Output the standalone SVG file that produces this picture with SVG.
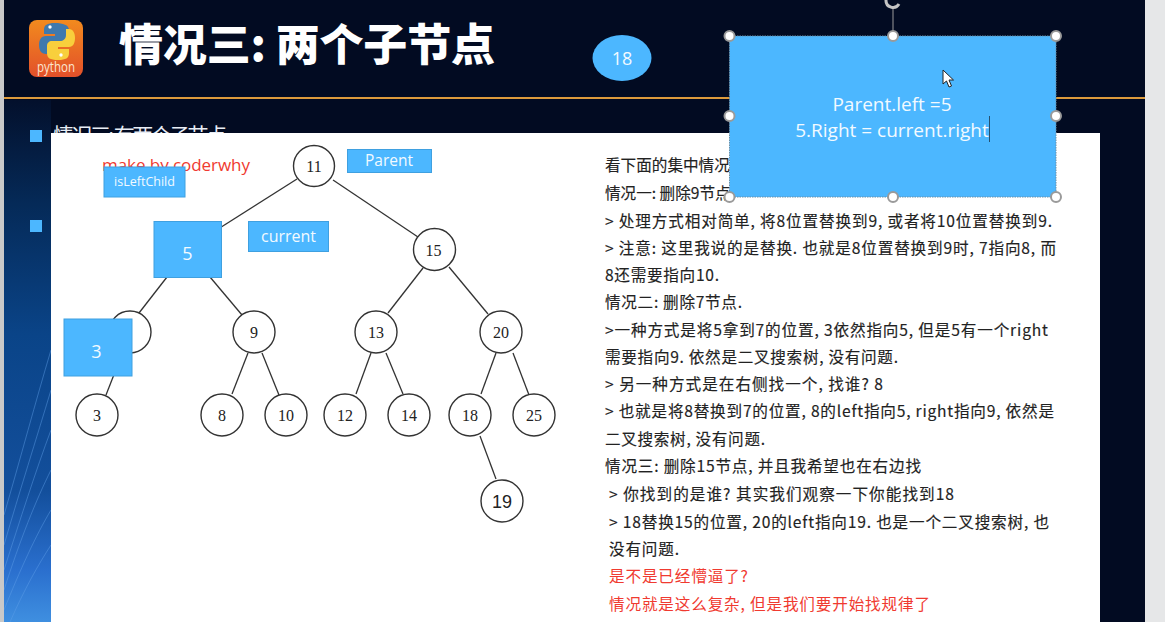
<svg xmlns="http://www.w3.org/2000/svg" width="1165" height="622" viewBox="0 0 1165 622">
<style>
.cjk{font-family:"Noto Sans CJK SC","Noto Sans",sans-serif}
.body{font-size:15.6px;fill:#222;stroke:#222;stroke-width:.15}
.red{font-size:15.6px;fill:#f03a30}
.num{font-family:"Liberation Serif",serif;font-size:16px;fill:#222;text-anchor:middle}
.nc{fill:#fff;stroke:#333;stroke-width:1.4}
.lnk{stroke:#333;stroke-width:1.3;fill:none}
.box{fill:#4cb7ff;stroke:#3fa0e0;stroke-width:1}
.bt{font-family:"Open Sans",sans-serif;fill:#f2faff;text-anchor:middle}
.hd{fill:#fff;stroke:#9a9a9a;stroke-width:2}
.st{stroke:#5fa0e8;stroke-width:1;fill:none;opacity:.45}
</style>
<defs>
<linearGradient id="side" x1="0" y1="0" x2="0" y2="1"><stop offset="0" stop-color="#03102c"/><stop offset=".2" stop-color="#052a58"/><stop offset=".45" stop-color="#0a4488"/><stop offset=".75" stop-color="#134f9c"/><stop offset=".9" stop-color="#2a6fce"/><stop offset="1" stop-color="#3f8fe0"/></linearGradient>
<linearGradient id="py" x1="0" y1="0" x2="0" y2="1"><stop offset="0" stop-color="#f28a1e"/><stop offset="1" stop-color="#e2502a"/></linearGradient>
</defs>
<rect width="1165" height="622" fill="#020b22"/>
<rect x="4" y="100" width="47" height="522" fill="url(#side)"/>
<g id="streaks">
<path class="st" d="M4 590C20 540 36 500 51 470"/>
<path class="st" d="M4 570C20 520 36 470 51 430"/>
<path class="st" d="M4 545C20 490 36 440 51 390"/>
<path class="st" d="M4 515C20 460 36 400 51 350"/>
<path class="st" d="M4 610C20 570 36 535 51 510"/>
<path class="st" d="M10 622C24 590 38 565 51 545"/>
</g>
<rect x="0" y="0" width="4" height="622" fill="#c9c9c9"/>
<rect x="1145" y="0" width="20" height="622" fill="#e6e7e8"/>
<rect x="4" y="97" width="1141" height="2" fill="#dc9a3c"/>
<g id="logo">
<rect x="29" y="20" width="54" height="57" rx="8" fill="url(#py)"/>
<path d="M55 23c-8 0-11 2-11 7v4h11v2H46c-5 0-7 4-7 9s2 9 7 9h4v-6c0-4 3-6 6-6h8c3 0 5-2 5-5V30c0-5-6-7-14-7z" fill="#3f79ad"/>
<path d="M58 60c8 0 11-2 11-7v-4H58v-2h11c4 0 6-4 6-9s-2-9-6-9h-3v6c0 4-3 6-6 6h-8c-3 0-5 2-5 5v7c0 5 3 7 11 7z" fill="#f8cf3c"/>
<circle cx="50" cy="27" r="1.700" fill="#fff"/><circle cx="61" cy="55" r="1.700" fill="#fff"/>
<text x="56" y="71.500" font-family="'Open Sans',sans-serif" font-size="15" fill="#fbe6d0" text-anchor="middle" textLength="38" lengthAdjust="spacingAndGlyphs">python</text>
</g>
<text id="title" class="cjk" x="119" y="61" font-size="44" font-weight="900" fill="#fff" textLength="376" lengthAdjust="spacing">情况三: 两个子节点</text>
<rect x="30" y="130" width="12" height="12" fill="#4cb7ff"/>
<rect x="30" y="220" width="12" height="12" fill="#4cb7ff"/>
<text class="cjk" x="53" y="143" font-size="21" fill="#e8edf5" textLength="174">情况三: 有两个子节点</text>
<rect id="panel" x="51" y="133" width="1049" height="489" fill="#fff"/>
<text x="102" y="171" font-size="17" fill="#f03a30" font-family="'Open Sans',sans-serif" textLength="148">make by coderwhy</text>
<g id="connectors">
<line class="lnk" x1="297" y1="179" x2="215" y2="231"/>
<line class="lnk" x1="333" y1="180" x2="418" y2="237"/>
<line class="lnk" x1="167" y1="277" x2="139" y2="313"/>
<line class="lnk" x1="210" y1="277" x2="242" y2="315"/>
<line class="lnk" x1="423" y1="268" x2="388" y2="313"/>
<line class="lnk" x1="449" y1="267" x2="488" y2="314"/>
<line class="lnk" x1="248" y1="353" x2="232" y2="394"/>
<line class="lnk" x1="262" y1="353" x2="279" y2="395"/>
<line class="lnk" x1="371" y1="353" x2="356" y2="394"/>
<line class="lnk" x1="386" y1="353" x2="403" y2="394"/>
<line class="lnk" x1="496" y1="353" x2="481" y2="394"/>
<line class="lnk" x1="513" y1="353" x2="529" y2="395"/>
<line class="lnk" x1="480" y1="436" x2="496" y2="479"/>
<line class="lnk" x1="115" y1="372" x2="106" y2="395"/>
</g>
<g id="n11"><circle class="nc" cx="314" cy="166" r="20.5"/><text class="num" x="314" y="172">11</text></g>
<g id="n15"><circle class="nc" cx="434.500" cy="249.500" r="21"/><text class="num" x="433.500" y="256">15</text></g>
<g id="n7"><circle class="nc" cx="130" cy="332" r="21"/></g>
<g id="n9"><circle class="nc" cx="254" cy="332" r="21"/><text class="num" x="254" y="338">9</text></g>
<g id="n13"><circle class="nc" cx="376" cy="332" r="21"/><text class="num" x="376" y="338">13</text></g>
<g id="n20"><circle class="nc" cx="501" cy="332" r="21"/><text class="num" x="501" y="338">20</text></g>
<g id="n3"><circle class="nc" cx="97" cy="415" r="21"/><text class="num" x="97" y="421">3</text></g>
<g id="n8"><circle class="nc" cx="222" cy="415" r="21"/><text class="num" x="222" y="421">8</text></g>
<g id="n10"><circle class="nc" cx="286" cy="415" r="21"/><text class="num" x="286" y="421">10</text></g>
<g id="n12"><circle class="nc" cx="345" cy="415" r="21"/><text class="num" x="345" y="421">12</text></g>
<g id="n14"><circle class="nc" cx="409" cy="415" r="21"/><text class="num" x="409" y="421">14</text></g>
<g id="n18"><circle class="nc" cx="470" cy="415" r="21"/><text class="num" x="470" y="421">18</text></g>
<g id="n25"><circle class="nc" cx="534" cy="415" r="21"/><text class="num" x="534" y="421">25</text></g>
<g id="n19"><circle class="nc" cx="502" cy="501" r="21"/><text x="502" y="508" font-family="'Liberation Sans',sans-serif" font-size="18" fill="#222" text-anchor="middle">19</text></g>
<g id="isLeftChild"><rect class="box" x="104" y="167" width="81" height="30"/><text class="bt" x="144.500" y="186" font-size="12.500">isLeftChild</text></g>
<g id="parent"><rect class="box" x="347.500" y="149.500" width="84" height="23"/><text class="bt" x="389" y="166" font-size="15.500">Parent</text></g>
<g id="current"><rect class="box" x="248.500" y="221.500" width="80" height="30"/><text class="bt" x="288.500" y="242" font-size="16">current</text></g>
<g id="box5"><rect class="box" x="154" y="221.500" width="67.500" height="56"/><text class="bt" x="187.500" y="260" font-size="18">5</text></g>
<g id="box3"><rect class="box" x="64" y="319" width="68" height="57"/><text class="bt" x="96.500" y="358" font-size="18">3</text></g>
<g id="text">
<text class="cjk body" x="605" y="171">看下面的集中情况</text>
<text class="cjk body" x="605" y="199">情况一: 删除9节点.</text>
<text class="cjk body" x="605" y="227" textLength="447">&gt; 处理方式相对简单, 将8位置替换到9, 或者将10位置替换到9.</text>
<text class="cjk body" x="605" y="254" textLength="451">&gt; 注意: 这里我说的是替换. 也就是8位置替换到9时, 7指向8, 而</text>
<text class="cjk body" x="605" y="281" textLength="114">8还需要指向10.</text>
<text class="cjk body" x="605" y="308" textLength="137">情况二: 删除7节点.</text>
<text class="cjk body" x="605" y="336" textLength="443">&gt;一种方式是将5拿到7的位置, 3依然指向5, 但是5有一个right</text>
<text class="cjk body" x="605" y="363" textLength="293">需要指向9. 依然是二叉搜索树, 没有问题.</text>
<text class="cjk body" x="605" y="390" textLength="278">&gt; 另一种方式是在右侧找一个, 找谁? 8</text>
<text class="cjk body" x="605" y="417" textLength="449">&gt; 也就是将8替换到7的位置, 8的left指向5, right指向9, 依然是</text>
<text class="cjk body" x="605" y="445" textLength="160">二叉搜索树, 没有问题.</text>
<text class="cjk body" x="605" y="472" textLength="316">情况三: 删除15节点, 并且我希望也在右边找</text>
<text class="cjk body" x="609" y="500" textLength="345">&gt; 你找到的是谁? 其实我们观察一下你能找到18</text>
<text class="cjk body" x="609" y="528" textLength="440">&gt; 18替换15的位置, 20的left指向19. 也是一个二叉搜索树, 也</text>
<text class="cjk body" x="609" y="555" textLength="70">没有问题.</text>
<text class="cjk red" x="609" y="582" textLength="139">是不是已经懵逼了?</text>
<text class="cjk red" x="609" y="610" textLength="321">情况就是这么复杂, 但是我们要开始找规律了</text>
</g>
<g id="ellipse18"><ellipse cx="622" cy="58" rx="29.500" ry="23" fill="#4cb7ff"/><text class="bt" x="622" y="65" font-size="18">18</text></g>
<g id="selected">
<line x1="893" y1="8" x2="893" y2="36" stroke="#9a9a9a" stroke-width="1"/>
<path d="M886 0a7 7 0 0 0 13 4" fill="none" stroke="#c4c4c4" stroke-width="3"/>
<rect x="729.500" y="36" width="326.500" height="161" fill="#4cb7ff" stroke="#6a8fa8" stroke-width="1" stroke-dasharray="1.500 1"/>
<text class="bt" x="892" y="111" font-size="19">Parent.left =5</text>
<text class="bt" x="892" y="137" font-size="19">5.Right = current.right</text>
<line x1="989.500" y1="116" x2="989.500" y2="142" stroke="#26506e" stroke-width="1"/>
<circle class="hd" cx="729.500" cy="36" r="5"/><circle class="hd" cx="893" cy="36" r="5"/><circle class="hd" cx="1056" cy="36" r="5"/>
<circle class="hd" cx="729.500" cy="116" r="5"/><circle class="hd" cx="1056" cy="116" r="5"/>
<circle class="hd" cx="729.500" cy="197" r="5"/><circle class="hd" cx="893" cy="197" r="5"/><circle class="hd" cx="1056" cy="197" r="5"/>
<path d="M943 70v14l3.500-3 2.500 6 2.500-1-2.500-6h4.500z" fill="#fff" stroke="#222" stroke-width="1"/>
</g>
</svg>
